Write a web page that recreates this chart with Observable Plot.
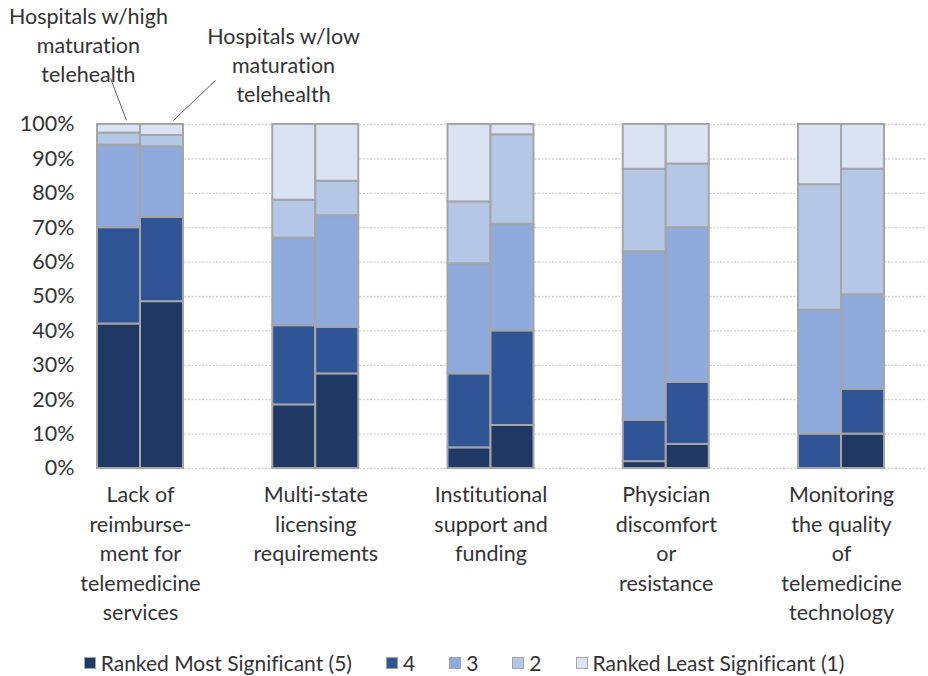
<!DOCTYPE html>
<html>
<head>
<meta charset="utf-8">
<script src="https://cdn.jsdelivr.net/npm/d3@7"></script>
<script src="https://cdn.jsdelivr.net/npm/@observablehq/plot@0.6"></script>
<style>
  html, body { margin: 0; padding: 0; background: #fff; }
  #chart { width: 928px; }
  svg text { font-variant-ligatures: none; }
  .legend { display: flex; justify-content: center; align-items: center; height: 24px; line-height: 24px; margin-top: 11px; font-family: Lato, sans-serif; font-size: 21px; color: #333; font-variant-ligatures: none; }
  .legend .item { display: flex; align-items: center; margin: 0 17px; }
  .legend .sw { width: 10px; height: 10px; border: 1px solid #a5a5a5; margin-right: 5px; }
</style>
</head>
<body>
<div id="chart"></div>
<script>
const categories = [
  "Lack of\nreimburse-\nment for\ntelemedicine\nservices",
  "Multi-state\nlicensing\nrequirements",
  "Institutional\nsupport and\nfunding",
  "Physician\ndiscomfort\nor\nresistance",
  "Monitoring\nthe quality\nof\ntelemedicine\ntechnology"
];
const ranks = ["Ranked Most Significant (5)", "4", "3", "2", "Ranked Least Significant (1)"];
const groups = ["Hospitals w/high maturation telehealth", "Hospitals w/low maturation telehealth"];

// Hospitals with high maturation telehealth (percent by rank)
const high5 = [42, 18.5, 6, 2, 0];
const high4 = [28, 23, 21.5, 12, 10];
const high3 = [24, 25.5, 32, 49, 36];
const high2 = [3.5, 11, 18, 24, 36.5];
const high1 = [2.5, 22, 22.5, 13, 17.5];
// Hospitals with low maturation telehealth
const low5 = [48.5, 27.5, 12.5, 7, 10];
const low4 = [24.5, 13.5, 27.5, 18, 13];
const low3 = [20.5, 32.5, 31, 45, 27.5];
const low2 = [3.3, 10, 26, 18.5, 36.5];
const low1 = [3.2, 16.5, 3, 11.5, 13];

const yTicks = [0, 10, 20, 30, 40, 50, 60, 70, 80, 90, 100];
const colors = ["#203864", "#2F5597", "#8FAADC", "#B4C7E7", "#DAE3F3"];

// build stacked table
const half = 43 / 175.25; // bar width in category units
const series = [[high5, high4, high3, high2, high1], [low5, low4, low3, low2, low1]];
const table = [];
series.forEach((s, g) => {
  categories.forEach((c, i) => {
    let acc = 0;
    s.forEach((arr, r) => {
      const v = arr[i];
      if (v > 0) {
        table.push({
          cat: i, group: groups[g], rank: ranks[r], value: v,
          x1: g === 0 ? i - half : i, x2: g === 0 ? i : i + half,
          y1: acc, y2: acc + v
        });
      }
      acc += v;
    });
  });
});

const annotations = [
  {text: "Hospitals w/high\nmaturation\ntelehealth", x: -0.297, y: 135.3},
  {text: "Hospitals w/low\nmaturation\ntelehealth", x: 0.816, y: 129.3}
];
const leaders = [
  {x1: -0.171, y1: 113.4, x2: -0.080, y2: 101.2},
  {x1: 0.428, y1: 112.8, x2: 0.188, y2: 101.2}
];

const FS = 21.5;
const chart = Plot.plot({
  width: 928,
  height: 640,
  marginLeft: 97,
  marginRight: 2,
  marginTop: 124,
  marginBottom: 172,
  style: {fontFamily: "Lato, sans-serif", color: "#333", background: "#fff", overflow: "visible"},
  x: {type: "linear", domain: [-half, 4.485], axis: null},
  y: {domain: [0, 100], axis: null},
  color: {domain: ranks, range: colors},
  marks: [
    Plot.ruleY(yTicks, {stroke: "#cfcfcf", strokeWidth: 1.3, strokeDasharray: "2,1.5"}),
    Plot.rect(table, {x1: "x1", x2: "x2", y1: "y1", y2: "y2", fill: "rank", stroke: "#a5a5a5", strokeWidth: 2}),
    Plot.axisY({ticks: yTicks, tickFormat: d => d + "%", tickSize: 0, tickPadding: 23, fontSize: FS}),
    Plot.axisX({ticks: [0, 1, 2, 3, 4], tickFormat: i => categories[i], tickSize: 0, tickPadding: 13, fontSize: FS, lineHeight: 1.37, lineWidth: 100}),
    Plot.link(leaders, {x1: "x1", y1: "y1", x2: "x2", y2: "y2", stroke: "#595959", strokeWidth: 1, clip: false}),
    Plot.text(annotations, {x: "x", y: "y", text: "text", lineAnchor: "top", fontSize: FS, lineHeight: 1.35, fill: "#333", clip: false})
  ]
});
document.getElementById("chart").appendChild(chart);

const legend = document.createElement("div");
legend.className = "legend";
ranks.forEach((r, i) => {
  const item = document.createElement("div");
  item.className = "item";
  const sw = document.createElement("span");
  sw.className = "sw";
  sw.style.background = colors[i];
  const t = document.createElement("span");
  t.textContent = r;
  item.appendChild(sw);
  item.appendChild(t);
  legend.appendChild(item);
});
document.getElementById("chart").appendChild(legend);
</script>
</body>
</html>
